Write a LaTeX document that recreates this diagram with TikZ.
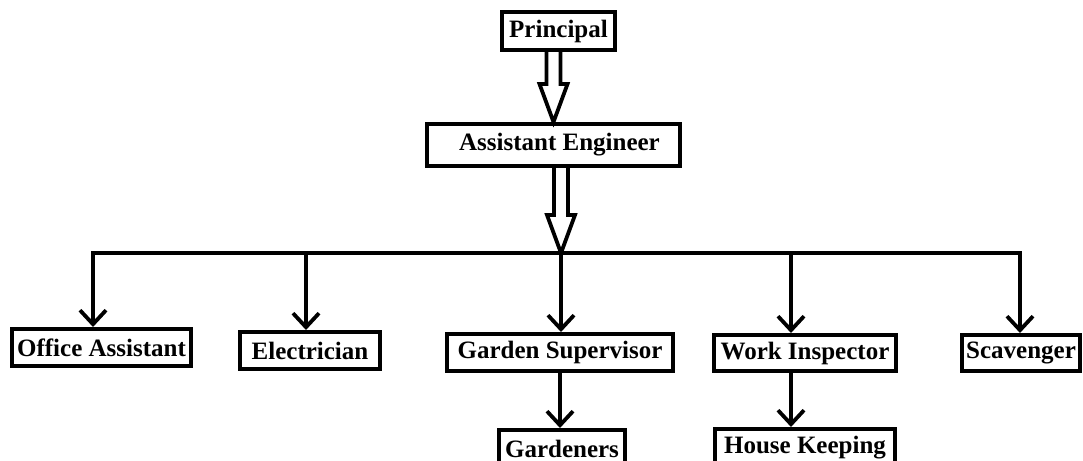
\documentclass[tikz,border=0pt]{standalone}
\usepackage{fontspec}
\setmainfont{Liberation Serif}
\usetikzlibrary{calc,arrows.meta}
\tikzset{vee/.tip={Straight Barb[length=7pt,width=13pt]}}

\begin{document}
\begin{tikzpicture}[x=0.5pt,y=-0.5pt,
	box/.style={draw,line width=2pt,inner sep=0pt,minimum height=18.5pt,minimum width=#1,font=\fontsize{12.5}{14}\selectfont\bfseries},
	link/.style={line width=1.9pt,-vee},
	blk/.style={draw,line width=1.9pt,line join=miter}]
	\newcommand{\blockarrow}[2]{ %hollow arrow
		\draw[blk] ($(#1.south -| #2)+(-7,0)$) -- ($(#2)+(-7,-38)$) -- ($(#2)+(-14,-38)$) -- (#2)
		-- ($(#2)+(14,-38)$) -- ($(#2)+(7,-38)$) -- ($(#1.south -| #2)+(7,0)$);
	}
	\useasboundingbox (0,0) rectangle (1083,461);
	\clip (0,0) rectangle (1083,461);
	\node[box=56.5pt,minimum height=19pt] (pr) at (558.5,31) {Principal}; %top
	\node[box=126.5pt,minimum height=21pt] (ae) at (553.5,145) {\hspace{6pt}Assistant Engineer};
	\node[box=89.5pt] (oa) at (101.5,347.5) {Office Assistant};
	\node[box=70pt] (el) at (310,350.5) {Electrician};
	\node[box=113pt] (gs) at (560,352.5) {Garden Supervisor};
	\node[box=91pt,minimum height=18pt] (wi) at (805,353) {Work Inspector};
	\node[box=59pt,minimum height=18pt] (sc) at (1021,353) {Scavenger};
	\node[box=63pt] (gd) at (562,448.5) {Gardeners}; %cut by the border
	\node[box=90pt] (hk) at (805,447.5) {House Keeping};
	\foreach \x [count=\i] in {93,306,561,791,1020}
		\coordinate (b\i) at (\x,253); %bus
	\blockarrow{pr}{ae.north}
	\blockarrow{ae}{b3}
	\draw[link,vee-vee] (b1 |- oa.north) -- (b1) -- (b5) -- (b5 |- sc.north);
	\foreach \b/\n in {b2/el,b3/gs,b4/wi}
		\draw[link] (\b) -- (\b |- \n.north);
	\draw[link] (gs.south) -- (gs.south |- gd.north);
	\draw[link] (b4 |- wi.south) -- (b4 |- hk.north);
\end{tikzpicture}
\end{document}
